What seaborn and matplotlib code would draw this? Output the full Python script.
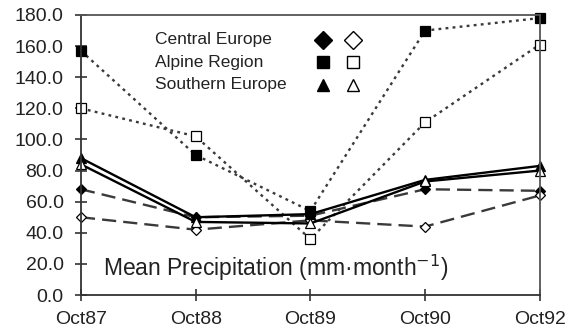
import matplotlib
matplotlib.use("Agg")
import matplotlib.pyplot as plt
import seaborn as sns
import pandas as pd

sns.set_theme(style="white")
plt.rcParams['font.family'] = ['Liberation Sans', 'DejaVu Sans']

months = ["Oct87", "Oct88", "Oct89", "Oct90", "Oct92"]
central_filled = [68, 50, 51, 68, 67]
central_open = [50, 42, 48, 44, 64]
alpine_filled = [157, 90, 54, 170, 178]
alpine_open = [120, 102, 36, 111, 161]
southern_filled = [88, 50, 52, 74, 83]
southern_open = [84, 47, 46, 73, 80]
yticks = [0, 20, 40, 60, 80, 100, 120, 140, 160, 180]

series = [
    (central_filled, 'D', 'black', (0, (6, 3)), 5.5),
    (central_open, 'D', 'white', (0, (6, 3)), 5.5),
    (alpine_filled, 's', 'black', (0, (1.2, 1.8)), 7),
    (alpine_open, 's', 'white', (0, (1.2, 1.8)), 7),
    (southern_filled, '^', 'black', '-', 7),
    (southern_open, '^', 'white', '-', 7),
]

fig = plt.figure(figsize=(5.7, 3.33), dpi=100)
ax = fig.add_axes([0.142, 0.114, 0.805, 0.841])
x = list(range(len(months)))
for vals, mk, fc, ls, ms in series:
    df = pd.DataFrame({"x": x, "y": vals})
    lc = '#3a3a3a' if ls != '-' else 'black'
    sns.lineplot(data=df, x="x", y="y", ax=ax, color=lc, linestyle=ls, lw=1.7,
                 marker=mk, markersize=ms, markerfacecolor=fc,
                 markeredgecolor='black', markeredgewidth=0.9, clip_on=False)

ax.set_xlim(0, 4)
ax.set_ylim(0, 180)
ax.set_xticks(x)
ax.set_xticklabels(months)
ax.set_yticks(yticks)
ax.set_yticklabels([f"{v:.1f}" for v in yticks])
ax.set_xlabel("")
ax.set_ylabel("")
ax.tick_params(axis='both', direction='inout', length=9, width=1.2, color='#333333',
               labelsize=14, labelcolor='#222222', bottom=True, left=True)
ax.tick_params(axis='y', pad=8)
ax.tick_params(axis='x', pad=7)
for s in ['left', 'bottom']:
    ax.spines[s].set_color('#333333')
    ax.spines[s].set_linewidth(1.3)
for s in ['top', 'right']:
    ax.spines[s].set_color('#555555')
    ax.spines[s].set_linewidth(1.3)

# legend block
labels = ["Central Europe", "Alpine Region", "Southern Europe"]
marks = ['D', 's', '^']
ys = [0.911, 0.832, 0.75]
for lab, mk, yy in zip(labels, marks, ys):
    ax.text(0.161, yy, lab, transform=ax.transAxes, fontsize=12.5, color='#222222',
            va='center', ha='left')
    ax.plot([0.527], [yy], marker=mk, color='black', markersize=9, transform=ax.transAxes,
            markeredgecolor='black', clip_on=False)
    ax.plot([0.593], [yy], marker=mk, markerfacecolor='white', markersize=9,
            markeredgecolor='black', markeredgewidth=1.0, transform=ax.transAxes, clip_on=False)

ax.text(0.048, 0.096, "Mean Precipitation (mm·month$^{\\mathsf{-1}}$)", transform=ax.transAxes,
        fontsize=16.5, color='#222222', va='center', ha='left')

fig.savefig("out.png", dpi=100)
